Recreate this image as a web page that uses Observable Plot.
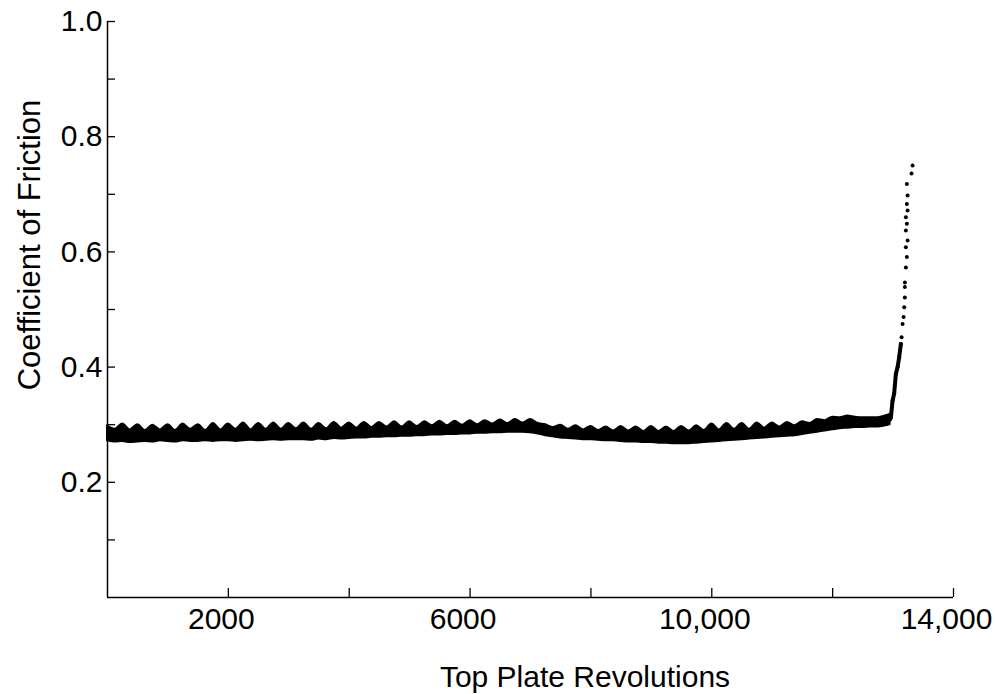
<!DOCTYPE html>
<html>
<head>
<meta charset="utf-8">
<script src="https://cdn.jsdelivr.net/npm/d3@7"></script>
<script src="https://cdn.jsdelivr.net/npm/@observablehq/plot@0.6"></script>
<style>
  html, body { margin: 0; padding: 0; background: #fff; }
  #chart { width: 995px; height: 694px; }
</style>
</head>
<body>
<div id="chart"></div>
<script>
// ---- data ----
const bandRevs = [0,125,250,375,500,625,750,875,1000,1125,1250,1375,1500,1625,1750,1875,2000,2125,2250,2375,2500,2625,2750,2875,3000,3125,3250,3375,3500,3625,3750,3875,4000,4125,4250,4375,4500,4625,4750,4875,5000,5125,5250,5375,5500,5625,5750,5875,6000,6125,6250,6375,6500,6625,6750,6875,7000,7125,7250,7375,7500,7625,7750,7875,8000,8125,8250,8375,8500,8625,8750,8875,9000,9125,9250,9375,9500,9625,9750,9875,10000,10125,10250,10375,10500,10625,10750,10875,11000,11125,11250,11375,11500,11625,11750,11875,12000,12125,12250,12375,12500,12625,12750,12875,12950];
const bandUpper = [0.298,0.292,0.301,0.291,0.300,0.290,0.299,0.291,0.300,0.290,0.301,0.292,0.300,0.290,0.302,0.291,0.301,0.292,0.303,0.291,0.302,0.292,0.303,0.292,0.302,0.293,0.303,0.292,0.302,0.293,0.304,0.294,0.303,0.294,0.304,0.295,0.304,0.296,0.305,0.296,0.305,0.297,0.305,0.298,0.306,0.298,0.306,0.299,0.307,0.300,0.307,0.301,0.308,0.302,0.309,0.303,0.309,0.302,0.300,0.295,0.299,0.292,0.298,0.291,0.297,0.290,0.296,0.289,0.297,0.289,0.296,0.288,0.297,0.288,0.296,0.288,0.297,0.289,0.298,0.290,0.301,0.291,0.302,0.292,0.302,0.292,0.303,0.294,0.303,0.296,0.304,0.298,0.305,0.302,0.309,0.307,0.313,0.312,0.315,0.313,0.312,0.312,0.312,0.315,0.318];
const bandLower = [0.272,0.270,0.271,0.269,0.270,0.271,0.270,0.272,0.271,0.270,0.272,0.271,0.271,0.272,0.271,0.272,0.272,0.271,0.272,0.273,0.272,0.273,0.274,0.273,0.274,0.274,0.274,0.273,0.275,0.274,0.276,0.275,0.276,0.277,0.277,0.278,0.278,0.279,0.279,0.280,0.280,0.281,0.281,0.282,0.282,0.283,0.283,0.284,0.284,0.285,0.285,0.286,0.286,0.287,0.287,0.287,0.286,0.284,0.281,0.279,0.277,0.276,0.275,0.274,0.274,0.273,0.272,0.272,0.271,0.270,0.270,0.269,0.269,0.268,0.268,0.267,0.267,0.267,0.268,0.269,0.270,0.271,0.272,0.273,0.274,0.275,0.276,0.277,0.278,0.279,0.280,0.281,0.283,0.285,0.287,0.289,0.291,0.293,0.294,0.295,0.295,0.296,0.296,0.298,0.300];

const spikeRevs = [12964,12992,13018,13046,13075,13101,13129,13141,13157,13174,13184,13195,13195,13195,13212,13228,13212,13240,13212,13228,13212,13240,13228,13240,13228,13306,13323];
const spikeVals = [0.313,0.342,0.354,0.388,0.400,0.417,0.440,0.452,0.475,0.487,0.504,0.521,0.539,0.547,0.573,0.591,0.608,0.620,0.637,0.649,0.660,0.672,0.683,0.698,0.718,0.736,0.750];
const spikeDenseCount = 7;

const yMinorTicks = [0.1,0.2,0.3,0.4,0.5,0.6,0.7,0.8,0.9,1.0];
const yLabelTicks = [0.2,0.4,0.6,0.8,1.0];
const xMinorTicks = [2000,4000,6000,8000,10000,12000,14000];
const xLabelTicks = [2000,6000,10000,14000];
const xTickLabels = ["2000","6000","10,000","14,000"];

const xTitle = "Top Plate Revolutions";
const yTitle = "Coefficient of Friction";

// ---- build tables ----
const band = bandRevs.map((r, i) => ({rev: r, hi: bandUpper[i], lo: bandLower[i]}));
const spike = spikeRevs.map((r, i) => ({rev: r, v: spikeVals[i]}));
const spikeDense = [{rev: bandRevs[bandRevs.length - 1], v: 0.309}, ...spike.slice(0, spikeDenseCount)];

const font = "'Liberation Sans', Arial, Helvetica, sans-serif";

const chart = Plot.plot({
  width: 995,
  height: 694,
  marginLeft: 107,
  marginRight: 42,
  marginTop: 21,
  marginBottom: 97,
  style: {fontFamily: font, fontSize: "30px", color: "black", background: "white"},
  x: {domain: [0, 14000]},
  y: {domain: [0, 1]},
  marks: [
    Plot.areaY(band, {x: "rev", y1: "lo", y2: "hi", fill: "black", stroke: "black", strokeWidth: 2, strokeLinejoin: "round", curve: "monotone-x"}),
    Plot.line(spikeDense, {x: "rev", y: "v", stroke: "black", strokeWidth: 4, strokeLinecap: "round"}),
    Plot.dot(spike, {x: "rev", y: "v", r: 2, fill: "black", stroke: null}),
    Plot.ruleX([0], {stroke: "black", strokeWidth: 1.5}),
    Plot.ruleY([0], {stroke: "black", strokeWidth: 1.5}),
    Plot.axisY({ticks: yMinorTicks, tickSize: 8, dx: 8, text: null, label: null, strokeWidth: 1.3}),
    Plot.axisY({ticks: yLabelTicks, tickSize: 0, tickPadding: 5, tickFormat: d3.format(".1f"), fontSize: 30, label: null}),
    Plot.axisX({ticks: xMinorTicks, tickSize: 9, dy: -9, text: null, label: null, strokeWidth: 1.3}),
    Plot.axisX({ticks: xLabelTicks, tickSize: 0, tickPadding: 10, dx: -7, tickFormat: d => xTickLabels[xLabelTicks.indexOf(d)], fontSize: 30, label: null})
  ]
});

const svg = d3.select(chart);
svg.append("text")
  .attr("transform", "translate(40,245) rotate(-90)")
  .attr("text-anchor", "middle")
  .attr("font-family", font)
  .attr("font-size", 31)
  .attr("fill", "black")
  .text(yTitle);
svg.append("text")
  .attr("x", 585)
  .attr("y", 687)
  .attr("text-anchor", "middle")
  .attr("font-family", font)
  .attr("font-size", 30)
  .attr("fill", "black")
  .text(xTitle);

document.getElementById("chart").appendChild(chart);
</script>
</body>
</html>
